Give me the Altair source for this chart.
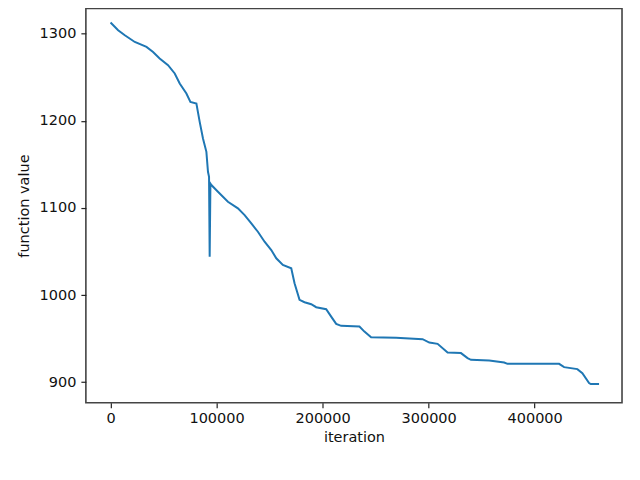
import altair as alt
import pandas as pd

# Data
iterations = [0, 7160, 13470, 22880, 33900, 40110, 46330, 54240, 60550, 65250,
              71560, 75330, 80980, 84090, 87190, 90400, 91900, 92900, 93500, 94200,
              95100, 101300, 110700, 120150, 126460, 132770, 138980, 145290, 151600, 156310,
              162520, 170430, 173540, 178250, 182960, 189270, 193970, 203390, 208100, 212810,
              217510, 234750, 239450, 245760, 269300, 294350, 300660, 308470, 317890, 330510,
              336720, 339920, 357160, 371280, 374390, 423070, 427780, 440300, 445010, 451320,
              452920, 460740]
values = [1313.0, 1304.0, 1298.3, 1290.6, 1284.9, 1279.1, 1271.6, 1263.9, 1254.4, 1242.9,
          1231.4, 1221.8, 1220.0, 1198.9, 1179.8, 1164.4, 1141.5, 1135.8, 1044.0, 1128.0,
          1126.3, 1118.6, 1107.1, 1099.5, 1091.8, 1082.3, 1072.7, 1061.2, 1051.7, 1042.2,
          1034.5, 1030.7, 1013.5, 994.4, 991.7, 989.4, 986.0, 983.7, 975.2, 966.9,
          964.6, 963.8, 958.0, 951.6, 950.8, 949.3, 945.4, 943.9, 933.9, 933.3,
          927.5, 925.6, 924.8, 922.5, 921.0, 921.0, 917.2, 914.9, 910.3, 898.9,
          897.7, 897.7]

x_ticks = [0, 100000, 200000, 300000, 400000]
y_ticks = [900, 1000, 1100, 1200, 1300]

df = pd.DataFrame({"iteration": iterations, "value": values})

font = "DejaVu Sans"

axis_common = dict(
    grid=False,
    domain=False,
    tickColor="#222222",
    tickSize=5,
    tickWidth=1.2,
    labelFont=font,
    labelFontSize=14.5,
    labelColor="#111111",
    titleFont=font,
    titleFontSize=14.5,
    titleFontWeight="normal",
    titleColor="#111111",
)

chart = alt.Chart(df).mark_line(color="#1f77b4", strokeWidth=2, clip=True).encode(
    x=alt.X(
        "iteration:Q",
        scale=alt.Scale(domain=[-23260, 482400], nice=False, zero=False),
        axis=alt.Axis(values=x_ticks, format="d", title="iteration",
                      labelPadding=4, titlePadding=5, **axis_common),
    ),
    y=alt.Y(
        "value:Q",
        scale=alt.Scale(domain=[876.3, 1329.2], nice=False, zero=False),
        axis=alt.Axis(values=y_ticks, format="d", title="function value",
                      labelPadding=5, titlePadding=8, **axis_common),
    ),
).properties(
    width=537,
    height=395,
    autosize=alt.AutoSizeParams(type="none"),
    padding={"left": 78, "top": 0, "right": 10, "bottom": 60},
).configure_view(
    stroke="#444444",
    strokeWidth=1.6,
)

chart.save("out.html", embed_options={"renderer": "svg", "actions": False})
